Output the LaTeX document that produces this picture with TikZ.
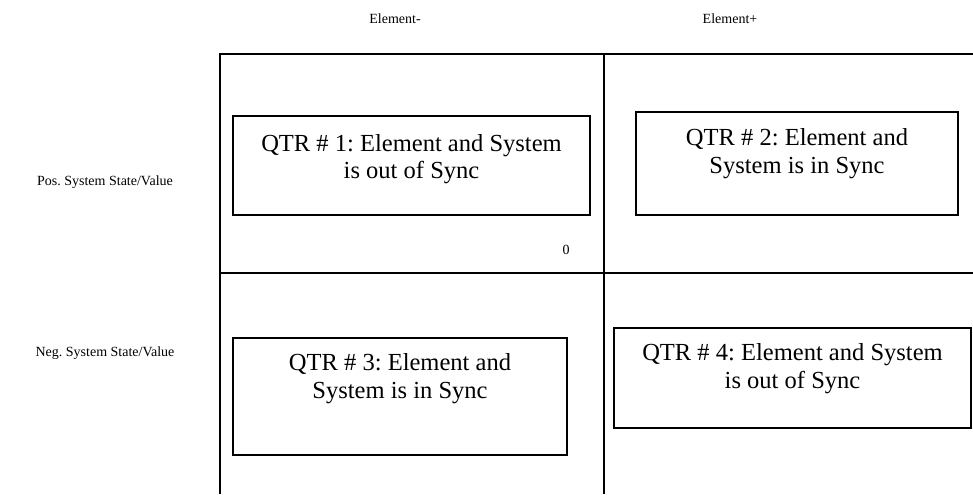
\documentclass[tikz,border=0pt]{standalone}
\usepackage{fontspec}
\setmainfont{Liberation Serif}
\frenchspacing
\usetikzlibrary{positioning}
\begin{document}
\begin{tikzpicture}[x=0.75pt,y=-0.75pt] % 1 unit = 1 px of the picture
\tikzstyle{frame} = [line width=1.2pt] % quadrant lines
\tikzstyle{qbox} = [draw, line width=1.1pt, inner sep=0pt] % quarter box
\tikzstyle{qtext} = [inner sep=0pt, align=center, font=\fontsize{18.4}{20.6}\selectfont] % text in a box
\tikzstyle{axislabel} = [inner sep=0pt, font=\fontsize{10.5}{12}\selectfont] % small labels

\useasboundingbox (0,0) rectangle (973,494);

% frame of the four quarters
\coordinate (tl) at (220,54);
\coordinate (tr) at (973,54);
\coordinate (bl) at (220,494);
\coordinate (mt) at (604,54);
\coordinate (mb) at (604,494);
\coordinate (ml) at (220,273);
\coordinate (mr) at (973,273);
\draw[frame] (bl) -- (tl) -- (tr);
\draw[frame] (mt) -- (mb);
\draw[frame] (ml) -- (mr);

% labels round the frame
\node[axislabel] (eminus) at (395,19) {Element-};
\node[axislabel] (eplus) at (730,19) {Element+};
\node[axislabel] (pos) at (105,182) {Pos. System State/Value};
\node[axislabel] (neg) at (105,353) {Neg. System State/Value};
\node[axislabel] (zero) at (566,250) {0};

% the quarters
\node[qbox, minimum width=267.75pt, minimum height=74.25pt] (q1) at (411.5,165.5) {};
\node[qbox, minimum width=241.5pt, minimum height=77.25pt] (q2) at (797,163.5) {};
\node[qbox, minimum width=250.5pt, minimum height=87.75pt] (q3) at (400,396.5) {};
\node[qbox, minimum width=267.75pt, minimum height=75pt] (q4) at (792.5,378) {};

\node[qtext, below=14pt of q1.north] (t1) {QTR \# 1: Element and System\\is out of Sync};
\node[qtext, below=13pt of q2.north] (t2) {QTR \# 2: Element and\\System is in Sync};
\node[qtext, below=12pt of q3.north] (t3) {QTR \# 3: Element and\\System is in Sync};
\node[qtext, below=12pt of q4.north] (t4) {QTR \# 4: Element and System\\is out of Sync};
\end{tikzpicture}
\end{document}
